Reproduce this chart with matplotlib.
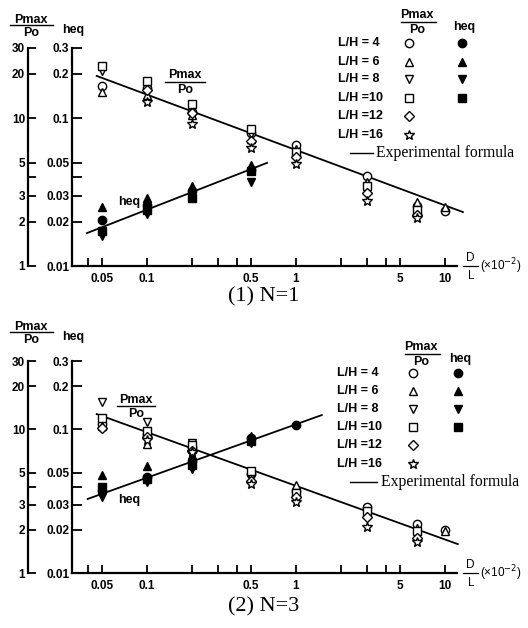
import numpy as np
import matplotlib
matplotlib.use("Agg")
import matplotlib.pyplot as plt
from matplotlib.lines import Line2D
from matplotlib.ticker import FixedLocator, FixedFormatter

nan = np.nan
# ---------------- data ----------------
dl_x = [0.05, 0.1, 0.2, 0.5, 1, 3, 6.5, 10]
heq1_x = [0.05, 0.1, 0.2, 0.5]
heq3_x = [0.05, 0.1, 0.2, 0.5, 1]

# N=1, Pmax/Po
n1_p_lh4 = [16.5, 16.0, 11.0, 8.0, 6.6, 4.1, 2.55, 2.35]
n1_p_lh6 = [15.0, 14.5, 10.5, 7.2, 6.2, 3.7, 2.7, 2.5]
n1_p_lh8 = [21.0, 17.0, 11.8, 7.8, 5.6, 3.3, 2.3, nan]
n1_p_lh10 = [22.5, 18.0, 12.5, 8.5, 5.9, 3.5, 2.4, nan]
n1_p_lh12 = [nan, 15.5, 10.8, 7.0, 5.5, 3.1, 2.2, nan]
n1_p_lh16 = [nan, 13.0, 9.2, 6.3, 4.9, 2.75, 2.1, nan]
# N=1, heq
n1_h_lh4 = [0.0205, 0.026, 0.032, 0.045]
n1_h_lh6 = [0.025, 0.029, 0.035, 0.048]
n1_h_lh8 = [0.016, 0.0225, 0.030, 0.037]
n1_h_lh10 = [0.0172, 0.024, 0.029, 0.044]
# N=1 experimental formula lines (end points)
n1_pline_x = [0.046, 13.2]
n1_pline_y = [19.4, 2.32]
n1_hline_x = [0.0395, 0.64]
n1_hline_y = [0.0167, 0.050]

# N=3, Pmax/Po
n3_p_lh4 = [11.0, 9.3, 7.6, 4.9, 3.7, 2.9, 2.2, 2.0]
n3_p_lh6 = [10.5, 7.9, 7.3, 4.6, 4.1, 2.65, 2.05, 1.95]
n3_p_lh8 = [15.5, 11.2, 8.0, 4.7, 3.5, 2.6, 1.85, nan]
n3_p_lh10 = [12.0, 9.8, 7.8, 5.1, 3.6, 2.7, 1.95, nan]
n3_p_lh12 = [10.2, 8.8, 7.1, 4.4, 3.4, 2.45, 1.75, nan]
n3_p_lh16 = [nan, 8.5, 7.0, 4.2, 3.1, 2.1, 1.65, nan]
# N=3, heq
n3_h_lh4 = [0.037, 0.047, 0.060, 0.087, 0.108]
n3_h_lh6 = [0.048, 0.056, 0.066, 0.090, nan]
n3_h_lh8 = [0.034, 0.043, 0.053, 0.080, nan]
n3_h_lh10 = [0.040, 0.045, 0.057, 0.083, nan]
n3_pline_x = [0.046, 12.2]
n3_pline_y = [12.8, 1.59]
n3_hline_x = [0.040, 1.49]
n3_hline_y = [0.0328, 0.126]

lh_labels = ["L/H = 4", "L/H = 6", "L/H = 8", "L/H =10", "L/H =12", "L/H =16"]
open_markers = ["o", "^", "v", "s", "D", "*"]
filled_markers = ["o", "^", "v", "s"]

x_ticks = [0.04, 0.05, 0.1, 0.2, 0.3, 0.4, 0.5, 1, 2, 3, 4, 5, 10]
x_ticklabels = ["", "0.05", "0.1", "", "", "", "0.5", "1", "", "", "", "5", "10"]
p_ticks = [1, 2, 3, 4, 5, 10, 20, 30]
p_ticklabels = ["1", "2", "3", "", "5", "10", "20", "30"]
h_ticks = [0.01, 0.02, 0.03, 0.04, 0.05, 0.1, 0.2, 0.3]
h_ticklabels = ["0.01", "0.02", "0.03", "", "0.05", "0.1", "0.2", "0.3"]

# ---------------- figure ----------------
W, H = 528, 628
fig = plt.figure(figsize=(W / 100, H / 100), dpi=100)
SANS = ["Liberation Sans", "DejaVu Sans"]
SERIF = ["Liberation Serif", "DejaVu Serif"]


def fx(x):
    return x / W


def fy(y):
    return 1 - y / H


def ftext(x, y, s, **kw):
    kw.setdefault("ha", "center")
    kw.setdefault("va", "center")
    fig.text(fx(x), fy(y), s, **kw)


def fline(x1, x2, y1, y2, lw=1.0):
    fig.add_artist(Line2D([fx(x1), fx(x2)], [fy(y1), fy(y2)],
                          transform=fig.transFigure, color="k", lw=lw))


def fmark(x, y, m, filled):
    ms = 7.5 if m == "*" else (5 if m == "D" else 6)
    fig.add_artist(Line2D([fx(x)], [fy(y)], transform=fig.transFigure,
                          marker=m, ms=ms, mfc="k" if filled else "white",
                          mec="k", mew=1.0, ls="none"))


def frac(xc, ytop, ybot, yline, x1, x2, size=9):
    ftext(xc, ytop, "Pmax", fontsize=size, fontweight="bold", family=SANS)
    fline(x1, x2, yline, yline, lw=1.0)
    ftext(xc, ybot, "Po", fontsize=size, fontweight="bold", family=SANS)


def make_panel(top, bottom, p_series, h_series, hx, pline, hline):
    ax = fig.add_axes([fx(72), fy(bottom), fx(457) - fx(72), (bottom - top) / H])
    ax.set_xscale("log")
    ax.set_yscale("log")
    ax.set_xlim(0.0314, 12.05)
    ax.set_ylim(0.01, 0.3)
    ax.patch.set_alpha(0)
    ax2 = ax.twinx()
    ax2.set_yscale("log")
    ax2.set_ylim(1, 30)
    ax2.patch.set_alpha(0)
    for a in (ax, ax2):
        a.spines["top"].set_visible(False)
        a.spines["right"].set_visible(False)
    ax2.spines["bottom"].set_visible(False)
    ax2.spines["left"].set_visible(True)
    ax2.spines["left"].set_position(("outward", 44 * 0.72))
    ax2.yaxis.set_ticks_position("left")
    ax2.yaxis.set_label_position("left")
    for sp in ("left", "bottom"):
        ax.spines[sp].set_linewidth(1.6)
    ax2.spines["left"].set_linewidth(1.6)

    ax.xaxis.set_major_locator(FixedLocator(x_ticks))
    ax.xaxis.set_major_formatter(FixedFormatter(x_ticklabels))
    ax.xaxis.set_minor_locator(FixedLocator([]))
    ax.yaxis.set_major_locator(FixedLocator(h_ticks))
    ax.yaxis.set_major_formatter(FixedFormatter(h_ticklabels))
    ax.yaxis.set_minor_locator(FixedLocator([]))
    ax2.yaxis.set_major_locator(FixedLocator(p_ticks))
    ax2.yaxis.set_major_formatter(FixedFormatter(p_ticklabels))
    ax2.yaxis.set_minor_locator(FixedLocator([]))
    ax.tick_params(axis="x", direction="in", length=6, width=1.3, pad=5,
                   labelsize=8.5)
    ax.tick_params(axis="y", direction="in", length=7, width=1.3, pad=2,
                   labelsize=8.5)
    ax2.tick_params(axis="y", direction="in", length=6, width=1.3, pad=2,
                    labelsize=8.5, right=False, labelright=False,
                    left=True, labelleft=True)
    for lab in ax.get_xticklabels() + ax.get_yticklabels() + ax2.get_yticklabels():
        lab.set_fontweight("bold")
        lab.set_family(SANS)

    # lines
    ax2.plot(pline[0], pline[1], color="k", lw=1.3, clip_on=False, zorder=2)
    ax.plot(hline[0], hline[1], color="k", lw=1.3, clip_on=False, zorder=2)
    # Pmax/Po points (open)
    for vals, m in zip(p_series, open_markers):
        ms = 7.5 if m == "*" else (5 if m == "D" else 6)
        ax2.plot(dl_x, vals, ls="none", marker=m, ms=ms, mfc="white",
                 mec="k", mew=1.0, clip_on=False, zorder=3)
    # heq points (filled)
    for vals, m in zip(h_series, filled_markers):
        ax.plot(hx, vals, ls="none", marker=m, ms=6, mfc="k", mec="k",
                clip_on=False, zorder=3)
    return ax


make_panel(48, 266,
           [n1_p_lh4, n1_p_lh6, n1_p_lh8, n1_p_lh10, n1_p_lh12, n1_p_lh16],
           [n1_h_lh4, n1_h_lh6, n1_h_lh8, n1_h_lh10], heq1_x,
           (n1_pline_x, n1_pline_y), (n1_hline_x, n1_hline_y))
make_panel(361, 573,
           [n3_p_lh4, n3_p_lh6, n3_p_lh8, n3_p_lh10, n3_p_lh12, n3_p_lh16],
           [n3_h_lh4, n3_h_lh6, n3_h_lh8, n3_h_lh10], heq3_x,
           (n3_pline_x, n3_pline_y), (n3_hline_x, n3_hline_y))


def decorate(oy, leg):
    # axis titles on the left
    frac(31, oy + 20, oy + 33, oy + 25, 10, 53)
    ftext(73, oy + 30, "heq", fontsize=9, fontweight="bold", family=SANS)
    # x axis label
    ftext(470, oy + 258, "D", fontsize=8.5, family=SANS)
    fline(463, 478, oy + 266, oy + 266, lw=0.9)
    ftext(471, oy + 276, "L", fontsize=8.5, family=SANS)
    ftext(480, oy + 266, "(×10$^{-2}$)", fontsize=8.5, family=SANS, ha="left")
    # legend
    tx, ox, fxm, hy, rows, ly, lx1, lx2, ltx = leg
    frac(ox + 8, hy, hy + 15, hy + 7, ox - 8, ox + 27)
    ftext(fxm + 2, hy + 12, "heq", fontsize=9, fontweight="bold", family=SANS)
    for i, (lab, m) in enumerate(zip(lh_labels, open_markers)):
        ftext(tx, rows[i], lab, fontsize=9, fontweight="bold", family=SANS,
              ha="left")
        fmark(ox, rows[i], m, False)
        if i < len(filled_markers):
            fmark(fxm, rows[i], filled_markers[i], True)
    fline(lx1, lx2, ly, ly, lw=1.0)
    ftext(ltx, ly, "Experimental formula", fontsize=11.3, family=SERIF, ha="left")


decorate(0, (338, 409, 462, 15, [43, 62, 79, 98, 116, 135], 153, 350, 373, 376))
decorate(307, (337, 413, 458, 347, [373, 391, 409, 427, 445, 464], 482, 350, 377, 381))

# inner labels
frac(185, 75, 90, 82, 165, 205)
ftext(129, 202, "heq", fontsize=9, fontweight="bold", family=SANS)
frac(136, 400, 414, 406, 117, 155)
ftext(129, 500, "heq", fontsize=9, fontweight="bold", family=SANS)

# captions
ftext(264, 297, "(1) N=1", fontsize=16, family=SERIF)
ftext(264, 607, "(2) N=3", fontsize=16, family=SERIF)

fig.savefig("out.png", dpi=100)
